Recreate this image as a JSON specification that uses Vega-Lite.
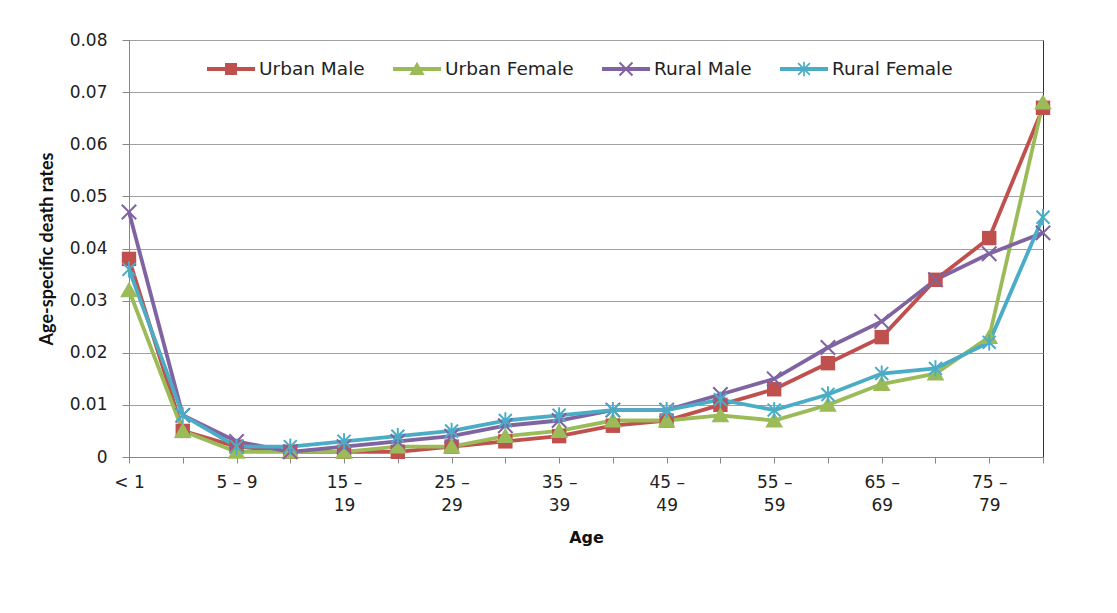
{
  "$schema": "https://vega.github.io/schema/vega-lite/v6.json",
  "width": 914,
  "height": 417,
  "autosize": {"type": "none"},
  "padding": {"left": 129, "top": 40, "right": 74, "bottom": 156},
  "background": "white",
  "config": {
    "view": {"stroke": "#303030", "strokeWidth": 1}
  },
  "data": {
    "values": [
      {"age": "< 1", "Urban Male": 0.038, "Urban Female": 0.032, "Rural Male": 0.047, "Rural Female": 0.036},
      {"age": "1 – 4", "Urban Male": 0.005, "Urban Female": 0.005, "Rural Male": 0.008, "Rural Female": 0.008},
      {"age": "5 – 9", "Urban Male": 0.002, "Urban Female": 0.001, "Rural Male": 0.003, "Rural Female": 0.002},
      {"age": "10 – 14", "Urban Male": 0.001, "Urban Female": 0.001, "Rural Male": 0.001, "Rural Female": 0.002},
      {"age": "15 – 19", "Urban Male": 0.001, "Urban Female": 0.001, "Rural Male": 0.002, "Rural Female": 0.003},
      {"age": "20 – 24", "Urban Male": 0.001, "Urban Female": 0.002, "Rural Male": 0.003, "Rural Female": 0.004},
      {"age": "25 – 29", "Urban Male": 0.002, "Urban Female": 0.002, "Rural Male": 0.004, "Rural Female": 0.005},
      {"age": "30 – 34", "Urban Male": 0.003, "Urban Female": 0.004, "Rural Male": 0.006, "Rural Female": 0.007},
      {"age": "35 – 39", "Urban Male": 0.004, "Urban Female": 0.005, "Rural Male": 0.007, "Rural Female": 0.008},
      {"age": "40 – 44", "Urban Male": 0.006, "Urban Female": 0.007, "Rural Male": 0.009, "Rural Female": 0.009},
      {"age": "45 – 49", "Urban Male": 0.007, "Urban Female": 0.007, "Rural Male": 0.009, "Rural Female": 0.009},
      {"age": "50 – 54", "Urban Male": 0.010, "Urban Female": 0.008, "Rural Male": 0.012, "Rural Female": 0.011},
      {"age": "55 – 59", "Urban Male": 0.013, "Urban Female": 0.007, "Rural Male": 0.015, "Rural Female": 0.009},
      {"age": "60 – 64", "Urban Male": 0.018, "Urban Female": 0.010, "Rural Male": 0.021, "Rural Female": 0.012},
      {"age": "65 – 69", "Urban Male": 0.023, "Urban Female": 0.014, "Rural Male": 0.026, "Rural Female": 0.016},
      {"age": "70 – 74", "Urban Male": 0.034, "Urban Female": 0.016, "Rural Male": 0.034, "Rural Female": 0.017},
      {"age": "75 – 79", "Urban Male": 0.042, "Urban Female": 0.023, "Rural Male": 0.039, "Rural Female": 0.022},
      {"age": "80+", "Urban Male": 0.067, "Urban Female": 0.068, "Rural Male": 0.043, "Rural Female": 0.046}
    ]
  },
  "transform": [
    {"fold": ["Urban Male", "Urban Female", "Rural Male", "Rural Female"], "as": ["series", "rate"]}
  ],
  "encoding": {
    "x": {
      "field": "age",
      "type": "ordinal",
      "sort": null,
      "scale": {"type": "point", "padding": 0},
      "axis": {
        "title": "Age",
        "titleFont": "DejaVu Sans",
        "titleFontSize": 16,
        "titleFontWeight": "bold",
        "titleColor": "#111111",
        "titlePadding": 16,
        "labelAngle": 0,
        "labelFont": "DejaVu Sans",
        "labelFontSize": 17,
        "labelColor": "#222222",
        "labelLineHeight": 23,
        "labelPadding": 11,
        "labelOverlap": false,
        "labelExpr": "datum.value == '< 1' ? '< 1' : (indexof(datum.value, '5 –') < 0 ? '' : (length(datum.value) > 5 ? [split(datum.value, ' – ')[0] + ' –', split(datum.value, ' – ')[1]] : datum.value))",
        "tickSize": 6,
        "tickColor": "#888888",
        "domainColor": "#888888",
        "grid": false
      }
    },
    "y": {
      "field": "rate",
      "type": "quantitative",
      "scale": {"domain": [0, 0.08], "nice": false},
      "axis": {
        "title": "Age-specific death rates",
        "titleFont": "Lato",
        "titleFontSize": 18,
        "titleFontWeight": "bold",
        "titleColor": "#111111",
        "titlePadding": 13,
        "values": [0, 0.01, 0.02, 0.03, 0.04, 0.05, 0.06, 0.07, 0.08],
        "format": ".2~f",
        "labelFont": "DejaVu Sans",
        "labelFontSize": 17,
        "labelColor": "#222222",
        "labelPadding": 15,
        "tickSize": 7,
        "tickColor": "#888888",
        "domainColor": "#888888",
        "gridColor": "#a0a0a0"
      }
    },
    "color": {
      "field": "series",
      "type": "nominal",
      "scale": {
        "domain": ["Urban Male", "Urban Female", "Rural Male", "Rural Female"],
        "range": ["#C0504D", "#9BBB59", "#8064A2", "#4BACC6"]
      },
      "legend": null
    }
  },
  "resolve": {
    "scale": {"shape": "independent"},
    "legend": {"shape": "independent", "color": "independent"}
  },
  "layer": [
    {
      "mark": {"type": "line", "strokeWidth": 3.8}
    },
    {
      "mark": {"type": "point", "filled": true, "size": 2304, "strokeWidth": 0, "opacity": 1},
      "encoding": {
        "shape": {
          "field": "series",
          "type": "nominal",
          "scale": {
            "domain": ["Urban Male", "Urban Female", "Rural Male", "Rural Female"],
            "range": [
              "M-0.3,-0.3H0.3V0.3H-0.3Z",
              "M0,-0.35L0.37,0.29H-0.37Z",
              "M-0.27,-0.33L0.33,0.27L0.27,0.33L-0.33,-0.27ZM-0.27,0.33L-0.33,0.27L0.27,-0.33L0.33,-0.27Z",
              "M-0.24,-0.3L0.3,0.24L0.24,0.3L-0.3,-0.24ZM-0.24,0.3L-0.3,0.24L0.24,-0.3L0.3,-0.24ZM-0.04,-0.34H0.04V0.34H-0.04Z"
            ]
          },
          "legend": null
        }
      }
    },
    {
      "mark": {"type": "point", "filled": true, "size": 2304, "strokeWidth": 0, "opacity": 0},
      "encoding": {
        "color": {
          "field": "series",
          "type": "nominal",
          "scale": {
            "domain": ["Urban Male", "Urban Female", "Rural Male", "Rural Female"],
            "range": ["#C0504D", "#9BBB59", "#8064A2", "#4BACC6"]
          },
          "legend": {
            "orient": "none",
            "legendX": 78,
            "legendY": 18,
            "direction": "horizontal",
            "title": null,
            "symbolSize": 2304,
            "symbolStrokeWidth": 0,
            "symbolOpacity": 1,
            "labelFont": "DejaVu Sans",
            "labelFontSize": 18.5,
            "labelColor": "#222222",
            "labelOffset": 4,
            "columnPadding": 28,
            "padding": 0,
            "clipHeight": 22
          }
        },
        "shape": {
          "field": "series",
          "type": "nominal",
          "scale": {
            "domain": ["Urban Male", "Urban Female", "Rural Male", "Rural Female"],
            "range": [
              "M-1,-0.08H1V0.08H-1ZM-0.25,-0.25H0.25V0.25H-0.25Z",
              "M-1,-0.08H1V0.08H-1ZM0,-0.3L0.32,0.25H-0.32Z",
              "M-1,-0.08H1V0.08H-1ZM-0.24,-0.3L0.3,0.24L0.24,0.3L-0.3,-0.24ZM-0.24,0.3L-0.3,0.24L0.24,-0.3L0.3,-0.24Z",
              "M-1,-0.08H1V0.08H-1ZM-0.22,-0.27L0.27,0.22L0.22,0.27L-0.27,-0.22ZM-0.22,0.27L-0.27,0.22L0.22,-0.27L0.27,-0.22ZM-0.035,-0.3H0.035V0.3H-0.035Z"
            ]
          },
          "legend": {
            "orient": "none",
            "legendX": 78,
            "legendY": 18,
            "direction": "horizontal",
            "title": null,
            "symbolSize": 2304,
            "symbolStrokeWidth": 0,
            "symbolOpacity": 1,
            "labelFont": "DejaVu Sans",
            "labelFontSize": 18.5,
            "labelColor": "#222222",
            "labelOffset": 4,
            "columnPadding": 28,
            "padding": 0,
            "clipHeight": 22
          }
        }
      }
    }
  ]
}
